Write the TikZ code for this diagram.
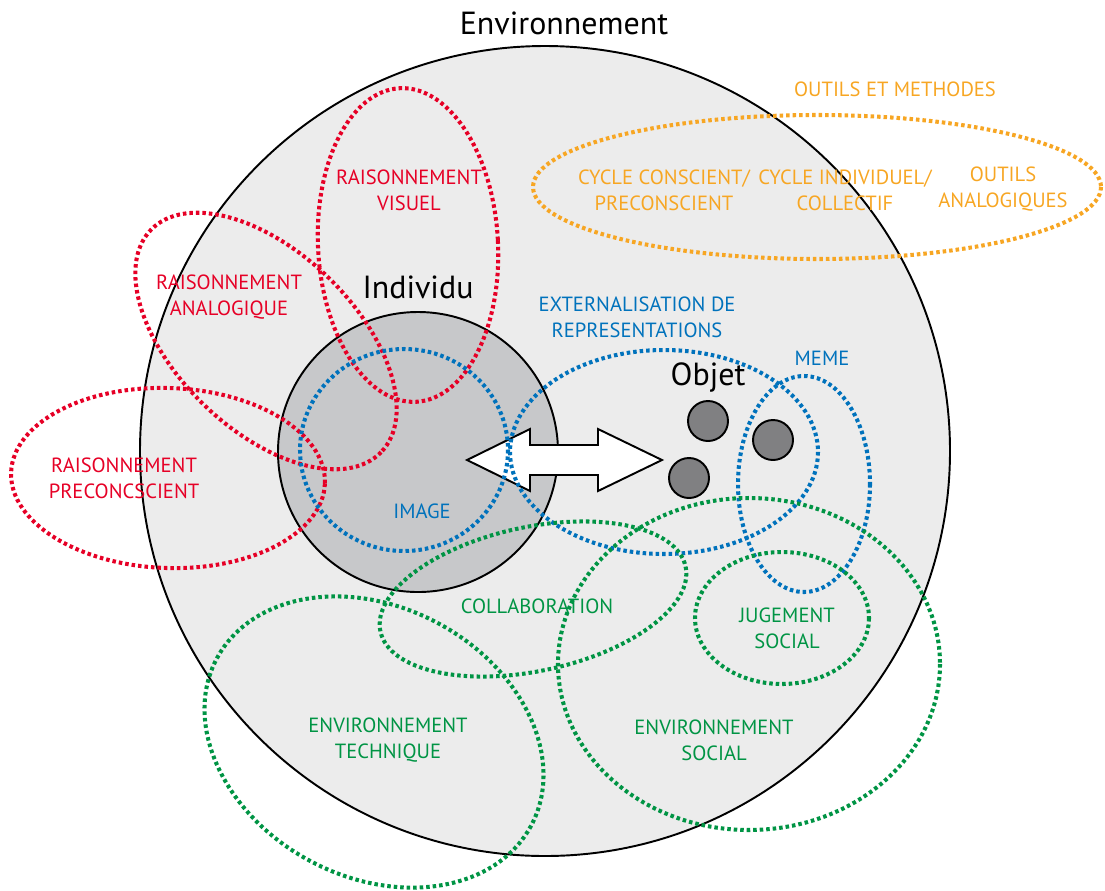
\documentclass[tikz,border=0pt]{standalone}
\usepackage{fontspec}
\setmainfont{PT Sans}
\usepackage{xcolor}
\usetikzlibrary{positioning}
\definecolor{setred}{RGB}{230,0,38}
\definecolor{setblue}{RGB}{0,114,188}
\definecolor{setgreen}{RGB}{0,148,68}
\definecolor{setorange}{RGB}{247,166,35}
\definecolor{envfill}{RGB}{236,236,236}
\definecolor{indfill}{RGB}{199,200,202}
\definecolor{objfill}{RGB}{128,128,130}

\begin{document}
\begin{tikzpicture}[x=0.02cm, y=-0.02cm, line width=1.1pt,
  dots/.style={line width=2.3pt, dash pattern=on 2pt off 1.7pt},
  lab/.style={font=\fontsize{11.7}{15}\selectfont, align=center, inner sep=0pt},
  big/.style={font=\fontsize{18.2}{21}\selectfont, inner sep=0pt, anchor=base},
  objdot/.style={circle, draw, fill=objfill, minimum size=0.8cm, inner sep=0pt}]
\useasboundingbox (0,0) rectangle (1105,890);
\draw[fill=envfill] (545,451) circle [radius=405];
\draw[fill=indfill] (418,452) circle [radius=140];
\node[big] (env) at (564,34) {Environnement};
\node[big] (ind) at (418,298) {Individu};
\node[big] (obj) at (708,385) {Objet};
\node[objdot] (o1) at (708,421) {};
\node[objdot] (o2) at (773,440) {};
\node[objdot] (o3) at (689,478) {};
\draw[fill=white] (467,460) -- (530,429) -- (530,445) -- (598,445) -- (598,429) -- (662,460)
  -- (598,491) -- (598,475) -- (530,475) -- (530,491) -- cycle;
\draw[dots, setred, rotate around={3:(408,245)}] (408,245) ellipse [x radius=90, y radius=157];
\draw[dots, setred, rotate around={-44:(266,341)}] (266,341) ellipse [x radius=160, y radius=89];
\draw[dots, setred, rotate around={-2:(168,478)}] (168,478) ellipse [x radius=157, y radius=90];
\draw[dots, setblue] (404,450) ellipse [x radius=104, y radius=101];
\draw[dots, setblue] (664,452) ellipse [x radius=154, y radius=102];
\draw[dots, setblue] (804,484) ellipse [x radius=66, y radius=108];
\draw[dots, setorange] (817,187) ellipse [x radius=284, y radius=72];
\draw[dots, setgreen, rotate around={12:(533,599)}] (533,599) ellipse [x radius=156, y radius=72];
\draw[dots, setgreen] (782,618) ellipse [x radius=87, y radius=66];
\draw[dots, setgreen, rotate around={-28:(374,742)}] (374,742) ellipse [x radius=178, y radius=135];
\draw[dots, setgreen] (749,664) ellipse [x radius=191, y radius=166];
\node[lab, setred] (visuel) at (409,190) {RAISONNEMENT\\VISUEL};
\node[lab, setred] (analog) at (229,297) {RAISONNEMENT\\ANALOGIQUE};
\node[lab, setred] (precon) at (124,478) {RAISONNEMENT\\PRECONCSCIENT};
\node[lab, setblue, anchor=base] (image) at (422,518) {IMAGE};
\node[lab, setblue] (extern) at (637,317) {EXTERNALISATION DE\\REPRESENTATIONS};
\node[lab, setblue, anchor=base] (meme) at (822,365) {MEME};
\node[lab, setorange, anchor=base] (outils) at (895,96) {OUTILS ET METHODES};
\node[lab, setorange] (cyc1) at (664,190) {CYCLE CONSCIENT/\\PRECONSCIENT};
\node[lab, setorange] (cyc2) at (845,190) {CYCLE INDIVIDUEL/\\COLLECTIF};
\node[lab, setorange] (analo) at (1003,189) {OUTILS\\ANALOGIQUES};
\node[lab, setgreen, anchor=base] (collab) at (537,613) {COLLABORATION};
\node[lab, setgreen] (jugement) at (787,628) {JUGEMENT\\SOCIAL};
\node[lab, setgreen] (envtech) at (388,740) {ENVIRONNEMENT\\TECHNIQUE};
\node[lab, setgreen] (envsoc) at (714,740) {ENVIRONNEMENT\\SOCIAL};
\end{tikzpicture}
\end{document}
